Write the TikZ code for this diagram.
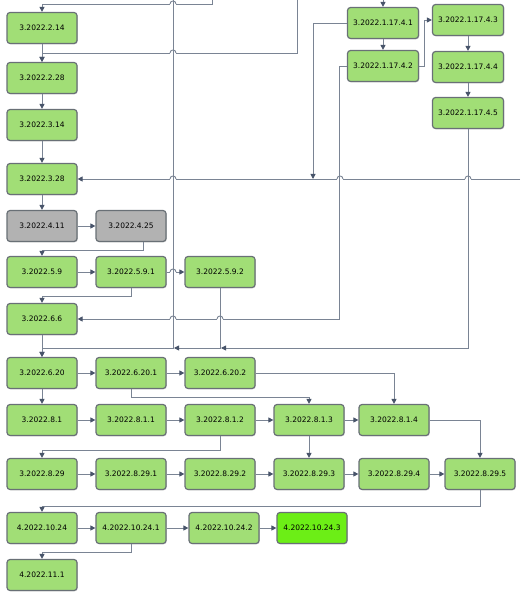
\documentclass[tikz,border=0pt]{standalone}
\usepackage{fontspec}
\setmainfont{DejaVu Sans}
\usetikzlibrary{arrows.meta,shadows}
\definecolor{leafgreen}{RGB}{161,222,118}
\definecolor{oldgray}{RGB}{178,178,178}
\definecolor{newgreen}{RGB}{108,238,22}
\definecolor{boxline}{RGB}{105,112,118}
\definecolor{wirec}{RGB}{122,132,148}
\definecolor{tipc}{RGB}{72,84,106}

\begin{document}
\begin{tikzpicture}[x=1pt, y=-1pt,
  release/.style={rectangle, rounded corners=3pt, draw=boxline, line width=1.2pt, fill=leafgreen, minimum width=70pt, minimum height=31pt, inner sep=0pt, font=\fontsize{7.5}{9}\selectfont, text=black, drop shadow={shadow xshift=0.8pt, shadow yshift=-0.8pt, opacity=0.35}},
  dropped/.style={release, fill=oldgray},
  current/.style={release, fill=newgreen},
  wide/.style={release, minimum width=71pt},
  wire/.style={draw=wirec, line width=0.9pt},
  edge/.style={wire, -{Triangle[length=5pt, width=5pt, color=tipc]}}
]
\useasboundingbox (0,0) rectangle (520,601);

% --------- MAIN LINE ----------
\node[release] (n214) at (42,28) {3.2022.2.14};
\node[release] (n228) at (42,78) {3.2022.2.28};
\node[release] (n314) at (42,125) {3.2022.3.14};
\node[release] (n328) at (42,179) {3.2022.3.28};
\node[dropped] (n411) at (42,226) {3.2022.4.11};
\node[dropped] (n425) at (131,226) {3.2022.4.25};
\node[release] (n59) at (42,272) {3.2022.5.9};
\node[release] (n591) at (131,272) {3.2022.5.9.1};
\node[release] (n592) at (220,272) {3.2022.5.9.2};
\node[release] (n66) at (42,319) {3.2022.6.6};
\node[release] (n620) at (42,373) {3.2022.6.20};
\node[release] (n6201) at (131,373) {3.2022.6.20.1};
\node[release] (n6202) at (220,373) {3.2022.6.20.2};
\node[release] (n81) at (42,420) {3.2022.8.1};
\node[release] (n811) at (131,420) {3.2022.8.1.1};
\node[release] (n812) at (220,420) {3.2022.8.1.2};
\node[release] (n813) at (309,420) {3.2022.8.1.3};
\node[release] (n814) at (394,420) {3.2022.8.1.4};
\node[release] (n829) at (42,474) {3.2022.8.29};
\node[release] (n8291) at (131,474) {3.2022.8.29.1};
\node[release] (n8292) at (220,474) {3.2022.8.29.2};
\node[release] (n8293) at (309,474) {3.2022.8.29.3};
\node[release] (n8294) at (394,474) {3.2022.8.29.4};
\node[release] (n8295) at (480,474) {3.2022.8.29.5};
\node[release] (n1024) at (42,528) {4.2022.10.24};
\node[release] (n10241) at (131,528) {4.2022.10.24.1};
\node[release] (n10242) at (224,528) {4.2022.10.24.2};
\node[current] (n10243) at (312,528) {4.2022.10.24.3};
\node[release] (n111) at (42,575) {4.2022.11.1};

% --------- 1.17 BRANCH ----------
\node[wide] (k41) at (383,23) {3.2022.1.17.4.1};
\node[wide] (k42) at (383,66) {3.2022.1.17.4.2};
\node[wide] (k43) at (468,20) {3.2022.1.17.4.3};
\node[wide] (k44) at (468,67) {3.2022.1.17.4.4};
\node[wide] (k45) at (468,113) {3.2022.1.17.4.5};

% free ends and meeting points
\coordinate (t212) at (212,0);
\coordinate (t297) at (297,0);
\coordinate (t173) at (173,0);
\coordinate (t383) at (383,0);
\coordinate (r179) at (520,179);
\coordinate (m313) at (313,179);
\coordinate (b173) at (173,348);
\coordinate (m174) at (174,348);
\coordinate (m221) at (221,348);

% straight steps
\draw[edge] (n214) -- (n228);
\draw[edge] (n228) -- (n314);
\draw[edge] (n314) -- (n328);
\draw[edge] (n328) -- (n411);
\draw[edge] (n411) -- (n425);
\draw[edge] (n59) -- (n591);
\draw[edge] (n66) -- (n620);
\draw[edge] (n620) -- (n6201);
\draw[edge] (n6201) -- (n6202);
\draw[edge] (n620) -- (n81);
\draw[edge] (n81) -- (n811);
\draw[edge] (n811) -- (n812);
\draw[edge] (n812) -- (n813);
\draw[edge] (n813) -- (n814);
\draw[edge] (n813) -- (n8293);
\draw[edge] (n829) -- (n8291);
\draw[edge] (n8291) -- (n8292);
\draw[edge] (n8292) -- (n8293);
\draw[edge] (n8293) -- (n8294);
\draw[edge] (n8294) -- (n8295);
\draw[edge] (n1024) -- (n10241);
\draw[edge] (n10241) -- (n10242);
\draw[edge] (n10242) -- (n10243);
\draw[edge] (t383) -- (k41);
\draw[edge] (k41) -- (k42);
\draw[edge] (k43) -- (k44);
\draw[edge] (k44) -- (k45);

% bent steps
\draw[edge] ([xshift=12pt]n425.south) -- ++(0,8) -| (n59);
\draw[edge] (n591.south) -- ++(0,8) -| (n66);
\draw[edge] (n6201.south) -- ++(0,8) -| (n813);
\draw[edge] (n6202.east) -| (n814);
\draw[edge] (n812.south) -- ++(0,14) -| (n829);
\draw[edge] (n814.east) -| (n8295);
\draw[edge] (n8295.south) -- ++(0,16) -| (n1024);
\draw[edge] (n10241.south) -- ++(0,8) -| (n111);
\draw[edge] (k42.east) -- ++(5,0) |- (k43);
\draw[edge] (k41.west) -| (m313);

% lines that others hop over
\draw[edge] (t212) -- ++(0,4) -| (n214);
\draw[edge] (t297) -- ++(0,53) -| (n228);
\draw[edge] (r179) -- (n328);
\draw[edge] (n591) -- (n592);
\foreach \hx/\hy in {173/4, 173/53, 173/179, 340/179, 468/179, 173/272} {
  \fill[white] (\hx-3,\hy-1.6) rectangle (\hx+3,\hy+1.6);
  \draw[wire] (\hx-3,\hy) .. controls (\hx-3,\hy-4) and (\hx+3,\hy-4) .. (\hx+3,\hy);
}
\draw[edge] (k42.west) -- ++(-7,0) |- (n66);
\foreach \hx/\hy in {220/319, 173/319} {
  \fill[white] (\hx-3,\hy-1.6) rectangle (\hx+3,\hy+1.6);
  \draw[wire] (\hx-3,\hy) .. controls (\hx-3,\hy-4) and (\hx+3,\hy-4) .. (\hx+3,\hy);
}

% lines that go under
\draw[edge] (k45) |- (m221);
\draw[edge] (n592) |- (m174);
\draw[edge] (t173) -- (b173) -| (n620);

\end{tikzpicture}
\end{document}
